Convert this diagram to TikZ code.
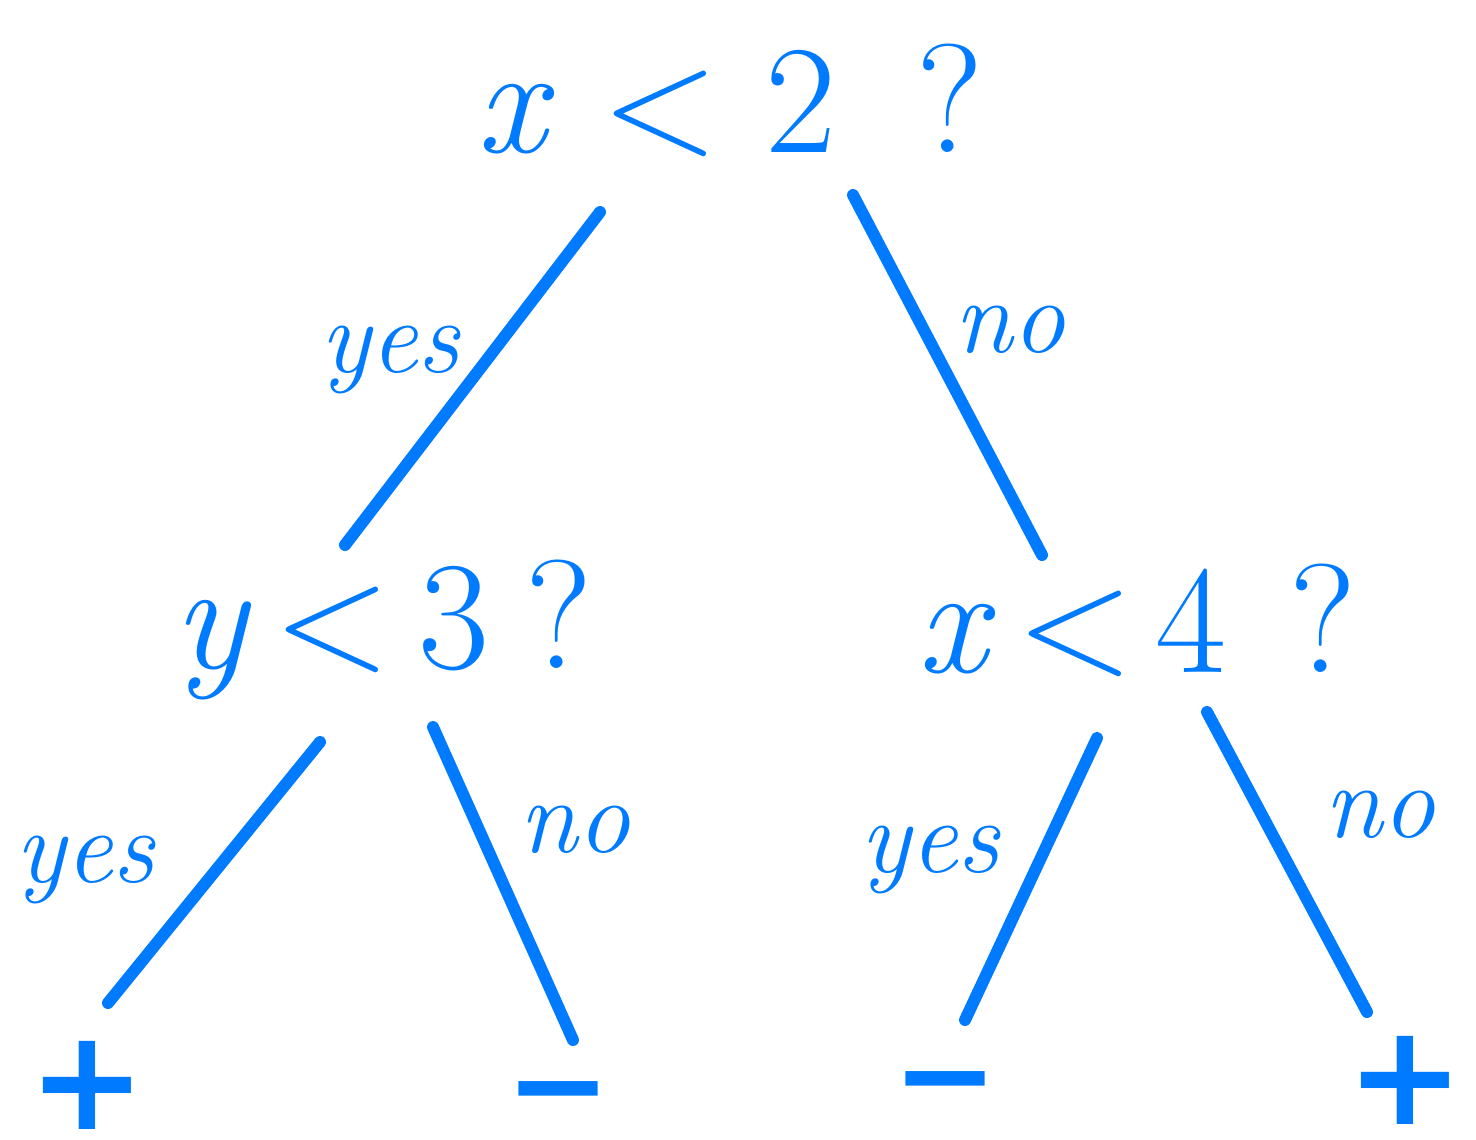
\documentclass[tikz,border=0pt]{standalone}
\usepackage{fontspec}
\newfontfamily\signfont{DejaVu Sans}
\definecolor{pen}{RGB}{0,122,255}
\begin{document}
\begin{tikzpicture}[x=1cm,y=1cm]
    % Node styles
    \tikzset{stroke/.style={draw=pen,line width=3.4pt,line cap=round},
             test node/.style={text=pen,font=\fontsize{44}{50}\selectfont},
             leaf node/.style={text=pen,inner sep=1pt,font=\fontsize{36}{40}\signfont\bfseries},
             answer/.style={text=pen,font=\fontsize{30}{34}\selectfont\itshape}}
    \useasboundingbox (0,0) rectangle (14.76,-11.39);

    % --- Level 0: Root test ---
    \node[test node] (root) at (7.3,-1.0) {\textit{x} < 2\hspace{0.8cm}?};

    % --- Level 1: tests ---
    \node[test node] (ytest) at (3.83,-6.3) {\textit{y}\kern6pt<\kern8pt3\kern10pt?};
    \node[test node] (xtest) at (11.37,-6.2) {\textit{x}\kern6pt<\kern6pt4\kern18pt?};

    % Edges from Root
    \coordinate (root-l) at (6.0,-2.12);
    \coordinate (root-r) at (8.53,-1.95);
    \coordinate (ytop) at (3.45,-5.45);
    \coordinate (xtop) at (10.42,-5.55);
    \draw[stroke] (root-l) -- (ytop);
    \draw[stroke] (root-r) -- (xtop);
    \node[answer] (a1) at (3.9,-3.6) {yes};
    \node[answer] (a2) at (10.1,-3.3) {no};

    % --- Level 2: Leaves ---
    \node[leaf node, font=\fontsize{40}{44}\signfont\bfseries] (leaf1) at (0.87,-10.85) {+};
    \node[leaf node] (leaf2) at (5.58,-11.05) {−};
    \node[leaf node] (leaf3) at (9.45,-10.95) {−};
    \node[leaf node, font=\fontsize{40}{44}\signfont\bfseries] (leaf4) at (14.05,-10.8) {+};

    % Edges from the tests
    \coordinate (ytest-l) at (3.2,-7.42);
    \coordinate (ytest-r) at (4.33,-7.27);
    \coordinate (xtest-l) at (10.97,-7.38);
    \coordinate (xtest-r) at (12.07,-7.12);
    \coordinate (leaf1-t) at (1.08,-10.03);
    \coordinate (leaf2-t) at (5.73,-10.4);
    \coordinate (leaf3-t) at (9.65,-10.2);
    \coordinate (leaf4-t) at (13.67,-10.12);
    \draw[stroke] (ytest-l) -- (leaf1-t);
    \draw[stroke] (ytest-r) -- (leaf2-t);
    \draw[stroke] (xtest-l) -- (leaf3-t);
    \draw[stroke] (xtest-r) -- (leaf4-t);
    \node[answer] (a3) at (0.85,-8.7) {yes};
    \node[answer] (a4) at (5.75,-8.3) {no};
    \node[answer] (a5) at (9.3,-8.6) {yes};
    \node[answer] (a6) at (13.8,-8.15) {no};
\end{tikzpicture}
\end{document}
